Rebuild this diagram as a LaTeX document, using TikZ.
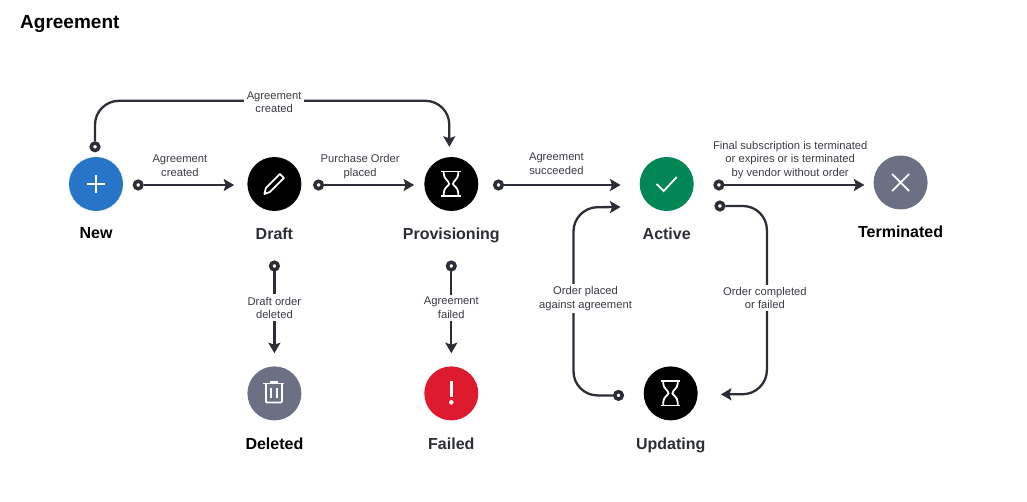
\documentclass[tikz,border=0pt]{standalone}
\usepackage{fontspec}
\setmainfont{Liberation Sans}
\usetikzlibrary{arrows.meta, positioning}

\definecolor{inkdark}{HTML}{2B2E36}
\definecolor{labelgray}{HTML}{3A3D45}
\definecolor{newblue}{HTML}{2675C8}
\definecolor{activegreen}{HTML}{038656}
\definecolor{stategray}{HTML}{6B7084}
\definecolor{failedred}{HTML}{DE1A2F}

\tikzset{
    hourglass/.pic={
        \draw[icon] (-10,-12.5) -- (9.5,-12.5);
        \draw[icon] (-10,12) -- (9.5,12);
        \draw[icon] (-7.5,-12.5) -- (-7.5,-10) .. controls (-7.5,-5) and (-2.2,-3) .. (-2.2,0) .. controls (-2.2,1.5) and (-7.5,3.5) .. (-7.5,9) -- (-7.5,12);
        \draw[icon] (7,-12.5) -- (7,-10) .. controls (7,-5) and (1.7,-3) .. (1.7,0) .. controls (1.7,1.5) and (7,3.5) .. (7,9) -- (7,12);
    }
}

\begin{document}
\begin{tikzpicture}[
    x=1pt, y=-1pt,
    >={Stealth[length=10.5pt, width=12pt, inset=2pt]},
    % Styles of the states
    statenode/.style={
        circle,
        minimum size=54pt,
        inner sep=0pt
    },
    statename/.style={
        font=\fontsize{16}{18}\selectfont\bfseries,
        text=inkdark,
        inner sep=0pt
    },
    startdot/.style={
        circle,
        draw=inkdark,
        fill=white,
        line width=3.5pt,
        minimum size=7.5pt,
        inner sep=0pt
    },
    flow/.style={
        ->,
        draw=inkdark,
        line width=2.3pt
    },
    flowlabel/.style={
        font=\fontsize{11.2}{13.5}\selectfont,
        text=labelgray,
        align=center,
        sharp corners,
        inner sep=2.5pt
    },
    icon/.style={
        draw=white,
        line width=1.8pt
    }
]
    \useasboundingbox (0,0) rectangle (1027,502);

    \node[anchor=west, inner sep=0pt, font=\fontsize{19}{22}\selectfont\bfseries] (title) at (20,23.5) {Agreement};

    % --- NODES ---

    % Top row
    \node[statenode, fill=newblue] (new) at (96,184) {};
    \node[statenode, fill=black, right=124pt of new] (draft) {};
    \node[statenode, fill=black, right=122.5pt of draft] (provisioning) {};
    \node[statenode, fill=activegreen, right=161pt of provisioning] (active) {};
    \node[statenode, fill=stategray, right=179.5pt of active, yshift=1.5pt] (terminated) {};

    % Bottom row
    \node[statenode, fill=stategray, below=155pt of draft] (deleted) {};
    \node[statenode, fill=failedred, below=155pt of provisioning] (failed) {};
    \node[statenode, fill=black, below=155pt of active, xshift=4pt] (updating) {};

    % State names
    \node[statename, text=black, below=16.5pt of new] (newname) {New};
    \node[statename, below=16.5pt of draft] (draftname) {Draft};
    \node[statename, below=16.5pt of provisioning] (provisioningname) {Provisioning};
    \node[statename, below=16.5pt of active] (activename) {Active};
    \node[statename, text=black, below=16.5pt of terminated] (terminatedname) {Terminated};
    \node[statename, text=black, below=17pt of deleted] (deletedname) {Deleted};
    \node[statename, below=17pt of failed] (failedname) {Failed};
    \node[statename, below=17pt of updating] (updatingname) {Updating};

    % Icons
    \draw[icon] ([xshift=-9pt]new.center) -- ([xshift=9pt]new.center);
    \draw[icon] ([yshift=-9pt]new.center) -- ([yshift=9pt]new.center);
    \begin{scope}[shift={(draft.center)}]
        \draw[icon, line join=round] (-10,10) -- (-8.5,4) -- (5.5,-10) -- (9.5,-6) -- (-4.5,8) -- cycle;
    \end{scope}
    \pic[shift={(provisioning.center)}] {hourglass};
    \pic[shift={(updating.center)}] {hourglass};
    \begin{scope}[shift={(active.center)}]
        \draw[icon] (-10,0) -- (-3,7) -- (10,-7);
    \end{scope}
    \begin{scope}[shift={(terminated.center)}]
        \draw[icon] (-8.5,-8.5) -- (8.5,8.5);
        \draw[icon] (-8.5,8.5) -- (8.5,-8.5);
    \end{scope}
    \begin{scope}[shift={(deleted.center)}]
        \draw[icon] (-11,-10) -- (10,-10);
        \draw[icon] (-4.5,-11.5) -- (3.5,-11.5);
        \draw[icon, rounded corners=1pt] (-8.5,-10) -- (-8.5,9) -- (7.5,9) -- (7.5,-10);
        \draw[icon, line width=2pt] (-3.3,-5.5) -- (-3.3,4.7);
        \draw[icon, line width=2pt] (2.2,-5.5) -- (2.2,4.7);
    \end{scope}
    \begin{scope}[shift={(failed.center)}]
        \draw[draw=white, line width=3.4pt] (0,-12) -- (0,3.5);
        \fill[white] (0,9) circle (2.3);
    \end{scope}

    % Start dots and arrow ends
    \node[startdot] (newtop) at ([xshift=-1pt, yshift=10pt]new.north) {};
    \node[startdot] (newout) at ([xshift=15pt, yshift=-1pt]new.east) {};
    \node[startdot] (draftout) at ([xshift=17pt, yshift=-1pt]draft.east) {};
    \node[startdot] (provout) at ([xshift=20pt, yshift=-1pt]provisioning.east) {};
    \node[startdot] (activeout) at ([xshift=25pt, yshift=-1pt]active.east) {};
    \node[startdot] (activeback) at ([xshift=26pt, yshift=-22pt]active.east) {};
    \node[startdot] (draftdown) at (draft |- 266,266) {};
    \node[startdot] (provdown) at (provisioning |- 266,266) {};
    \node[startdot] (updateout) at ([xshift=-25pt, yshift=-2pt]updating.west) {};

    \coordinate (draftin) at ([xshift=-13pt, yshift=-1pt]draft.west);
    \coordinate (provin) at ([xshift=-10pt, yshift=-1pt]provisioning.west);
    \coordinate (provtop) at ([xshift=-2pt, yshift=10pt]provisioning.north);
    \coordinate (activein) at ([xshift=-19pt, yshift=-1pt]active.west);
    \coordinate (activebackin) at ([xshift=-19pt, yshift=-23pt]active.west);
    \coordinate (termin) at ([xshift=-9pt, yshift=-2.5pt]terminated.west);
    \coordinate (deletedin) at ([yshift=13pt]deleted.north);
    \coordinate (failedin) at ([yshift=13pt]failed.north);
    \coordinate (updatein) at ([xshift=23pt, yshift=-1pt]updating.east);

    % --- ARROWS ---

    % New -> Provisioning (over the top)
    \draw[flow, rounded corners=24pt] (newtop) -- ++(0,-46) -| node[pos=0.25, fill=white, flowlabel, xshift=2pt, yshift=-1.5pt] {Agreement\\created} (provtop);

    % Top row, left to right
    \draw[flow] (newout) -- node[flowlabel, above=5pt, pos=0.40] {Agreement\\created} (draftin);
    \draw[flow] (draftout) -- node[flowlabel, above=3pt, pos=0.40] {Purchase Order\\placed} (provin);
    \draw[flow] (provout) -- node[flowlabel, above=7pt, pos=0.45] {Agreement\\succeeded} (activein);
    \draw[flow] (activeout) -- node[flowlabel, above=3pt, pos=0.47] {Final subscription is terminated\\or expires or is terminated\\by vendor without order} (termin);

    % Down to Deleted and Failed
    \draw[flow] (draftdown) -- node[flowlabel, fill=white, yshift=4.5pt] {Draft order\\deleted} (deletedin);
    \draw[flow] (provdown) -- node[flowlabel, fill=white, yshift=4.5pt] {Agreement\\failed} (failedin);

    % Active <-> Updating (loop)
    \draw[flow, rounded corners=24pt] (updateout) -- ++(-45,0) -- node[flowlabel, fill=white, pos=0.52, xshift=12pt, yshift=-1pt] {Order placed\\against agreement} ++(0,-188) -- (activebackin);
    \draw[flow, rounded corners=24pt] (activeback) -- ++(47,0) -- node[flowlabel, fill=white, pos=0.49, xshift=-2pt] {Order completed\\or failed} ++(0,188) -- (updatein);

\end{tikzpicture}
\end{document}
